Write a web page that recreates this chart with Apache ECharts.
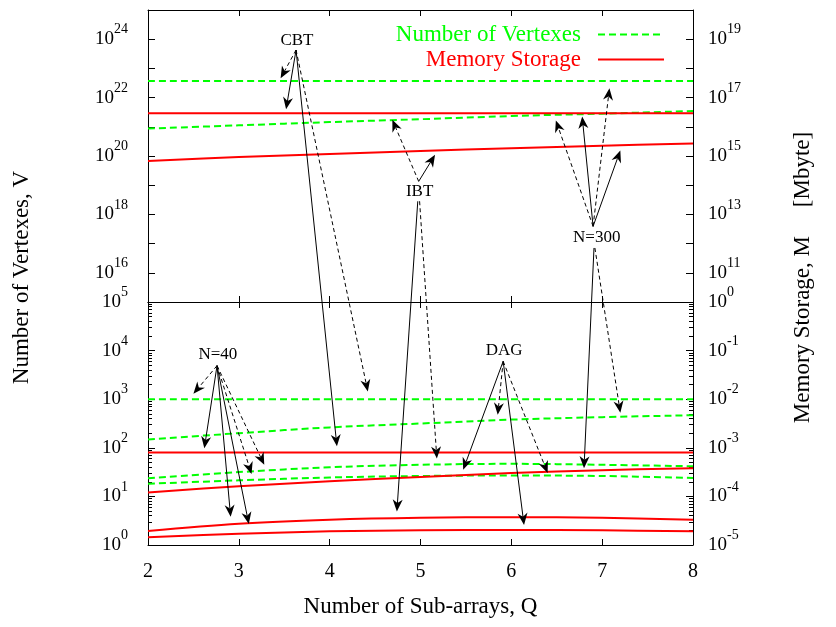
<!DOCTYPE html>
<html><head><meta charset="utf-8">
<script src="https://cdn.jsdelivr.net/npm/echarts@6/dist/echarts.min.js"></script>
<style>html,body{margin:0;padding:0;background:#fff}#c{width:836px;height:627px}</style>
</head><body><div id="c"></div>
<script>
// ---------------- data ----------------
const Q = [2, 3, 4, 5, 6, 7, 8];
// upper panel (N = 300)
const vertexCBT300 = [3.7e22, 3.7e22, 3.7e22, 3.7e22, 3.7e22, 3.7e22, 3.7e22];
const memoryCBT300 = [2.9e16, 2.9e16, 2.9e16, 2.9e16, 2.9e16, 2.9e16, 2.9e16];
const vertexIBT300 = [8.7e20, 1.12e21, 1.45e21, 1.82e21, 2.34e21, 2.82e21, 3.47e21];
const memoryIBT300 = [6.8e14, 9.3e14, 1.17e15, 1.48e15, 1.86e15, 2.24e15, 2.69e15];
// lower panel (N = 40)
const vertexCBT40 = [1000, 1000, 1000, 1000, 1000, 1000, 1000];
const memoryCBT40 = [8.0e-4, 8.0e-4, 8.0e-4, 8.0e-4, 8.0e-4, 8.0e-4, 8.0e-4];
const vertexIBT40 = [23.7, 31.6, 39.8, 44.7, 46.8, 44.7, 41.7];
const memoryIBT40 = [1.95e-5, 2.75e-5, 3.31e-5, 3.63e-5, 3.72e-5, 3.63e-5, 3.31e-5];
const vertexDagA = [148, 200, 263, 316, 380, 427, 468];
const memoryDagA = [1.20e-4, 1.62e-4, 2.04e-4, 2.51e-4, 3.02e-4, 3.47e-4, 3.80e-4];
const vertexDagB = [18.2, 21.4, 24.5, 26.3, 26.9, 26.3, 24.0];
const memoryDagB = [1.45e-5, 1.70e-5, 1.91e-5, 2.0e-5, 2.04e-5, 2.0e-5, 1.91e-5];

// tick label exponents
const xTicks = [2, 3, 4, 5, 6, 7, 8];
const topLeftExp = [16, 18, 20, 22, 24];
const topRightExp = [11, 13, 15, 17, 19];
const botLeftExp = [0, 1, 2, 3, 4, 5];
const botRightExp = [-5, -4, -3, -2, -1, 0];

// annotation labels: [text, panel, Q, log10 V]
const labels = [
  ['CBT', 'T', 3.64, 23.97],
  ['IBT', 'T', 4.99, 18.79],
  ['N=300', 'T', 6.94, 17.22],
  ['N=40', 'B', 2.77, 3.92],
  ['DAG', 'B', 5.92, 4.01]
];
// arrows: [from, to, dashed]; point = [panel, Q, log10 V]
const arrows = [
  [['T',3.63,23.63], ['T',3.46,22.66], true],
  [['T',3.63,23.63], ['T',3.52,21.60], false],
  [['T',3.63,23.63], ['B',4.08,2.03], false],
  [['T',3.63,23.63], ['B',4.42,3.16], true],
  [['T',4.98,19.13], ['T',4.69,21.24], true],
  [['T',4.98,19.13], ['T',5.16,20.04], false],
  [['T',4.97,18.45], ['B',4.74,0.69], false],
  [['T',4.99,18.45], ['B',5.18,1.78], true],
  [['T',6.90,17.59], ['T',6.49,21.22], true],
  [['T',6.90,17.59], ['T',6.78,21.35], false],
  [['T',6.90,17.59], ['T',7.08,22.32], true],
  [['T',6.90,17.59], ['T',7.20,20.19], false],
  [['T',6.91,16.85], ['B',6.80,1.58], false],
  [['T',6.92,16.85], ['B',7.20,2.72], true],
  [['B',2.76,3.69], ['B',2.50,3.11], true],
  [['B',2.76,3.69], ['B',2.62,1.99], false],
  [['B',2.76,3.69], ['B',3.14,1.46], true],
  [['B',2.76,3.69], ['B',3.28,1.65], true],
  [['B',2.76,3.69], ['B',2.91,0.58], false],
  [['B',2.76,3.69], ['B',3.11,0.43], false],
  [['B',5.91,3.78], ['B',5.47,1.55], false],
  [['B',5.91,3.78], ['B',5.85,2.68], true],
  [['B',5.91,3.78], ['B',6.40,1.48], true],
  [['B',5.91,3.78], ['B',6.14,0.41], false]
];

// ---------------- chart ----------------
const FONT = 'Liberation Serif';
const GREEN = '#00ff00', RED = '#ff0000';
const chart = echarts.init(document.getElementById('c'));

const rich = {
  b: {fontSize: 19, fontFamily: FONT, color: '#000', lineHeight: 26, verticalAlign: 'bottom'},
  s: {fontSize: 14, fontFamily: FONT, color: '#000', lineHeight: 26, verticalAlign: 'top'}
};
function xAx(grid, pos, showLabels) {
  return {type: 'value', gridIndex: grid, position: pos, min: 2, max: 8, interval: 1,
    axisLine: {show: true, onZero: false, lineStyle: {color: '#000', width: 1}},
    axisTick: {show: true, inside: true, length: 6, lineStyle: {color: '#000'}},
    axisLabel: {show: showLabels, margin: 17, fontSize: 20, fontFamily: FONT, color: '#000',
      customValues: xTicks, formatter: v => String(v)},
    splitLine: {show: false}};
}
function yAx(grid, pos, min, max, exps, margin) {
  return {type: 'value', gridIndex: grid, position: pos, min: min, max: max, interval: 1,
    axisLine: {show: true, onZero: false, lineStyle: {color: '#000', width: 1}},
    axisTick: {show: true, inside: true, length: 7, lineStyle: {color: '#000'}},
    axisLabel: {show: true, margin: margin, customValues: exps, rich: rich, padding: [0, 0, 7, 0],
      formatter: v => exps.indexOf(Math.round(v)) >= 0 ? '{b|10}{s|' + Math.round(v) + '}' : ''},
    splitLine: {show: false}};
}
function minorVals(min, max) {
  const out = [];
  for (let d = min; d < max; d++) for (let k = 2; k <= 9; k++) out.push(d + Math.log10(k));
  return out;
}
function minorAx(grid, pos, min, max) {
  return {type: 'value', gridIndex: grid, position: pos, min: min, max: max,
    axisLine: {show: false}, axisLabel: {show: false}, splitLine: {show: false},
    axisTick: {show: true, inside: true, length: 4, customValues: minorVals(min, max), lineStyle: {color: '#000'}}};
}
function nameAxY(pos, name, gap) {
  return {type: 'value', gridIndex: 2, position: pos, min: 0, max: 1, name: name,
    nameLocation: 'middle', nameGap: gap, nameRotate: 90,
    nameTextStyle: {fontSize: 23, fontFamily: FONT, color: '#000'},
    axisLine: {show: false}, axisTick: {show: false}, axisLabel: {show: false}, splitLine: {show: false}};
}
function toPts(arr) { return Q.map((q, i) => [q, Math.log10(arr[i])]); }
function ser(name, arr, xi, yi, color, dashed) {
  return {type: 'line', name: name, xAxisIndex: xi, yAxisIndex: yi, data: toPts(arr),
    showSymbol: false, symbol: 'none', smooth: 0.35, silent: true, color: color,
    lineStyle: {color: color, width: 2, type: dashed ? [7, 4] : 'solid'}};
}
const VN = 'Number of Vertexes', MN = 'Memory Storage';

const option = {
  animation: false,
  textStyle: {fontFamily: FONT},
  grid: [
    {left: 148, right: 143, top: 10, height: 292},
    {left: 148, right: 143, top: 302, height: 243},
    {left: 148, right: 143, top: 10, height: 535}
  ],
  legend: {
    top: 18, right: 166, orient: 'vertical', align: 'right', itemWidth: 66, itemHeight: 12, itemGap: 2,
    selectedMode: false,
    itemStyle: {opacity: 0},
    textStyle: {fontSize: 23, fontFamily: FONT, padding: [0, 12, 0, 0]},
    data: [{name: VN, textStyle: {color: GREEN}}, {name: MN, textStyle: {color: RED}}]
  },
  xAxis: [
    xAx(0, 'bottom', false), xAx(0, 'top', false),
    xAx(1, 'bottom', true), xAx(1, 'top', false),
    {type: 'value', gridIndex: 2, position: 'bottom', min: 2, max: 8, name: 'Number of Sub-arrays, Q',
      nameLocation: 'middle', nameGap: 50, nameTextStyle: {fontSize: 23, fontFamily: FONT, color: '#000'},
      axisLine: {show: false}, axisTick: {show: false}, axisLabel: {show: false}, splitLine: {show: false}}
  ],
  yAxis: [
    yAx(0, 'left', 15, 25, topLeftExp, 20),
    yAx(0, 'right', 10, 20, topRightExp, 15),
    yAx(1, 'left', 0, 5, botLeftExp, 20),
    yAx(1, 'right', -5, 0, botRightExp, 15),
    minorAx(1, 'left', 0, 5),
    minorAx(1, 'right', -5, 0),
    nameAxY('left', 'Number of Vertexes, V', 115),
    nameAxY('right', 'Memory Storage, M     [Mbyte]', 98)
  ],
  series: [
    ser(VN, vertexCBT300, 0, 0, GREEN, true),
    ser(VN, vertexIBT300, 0, 0, GREEN, true),
    ser(MN, memoryCBT300, 0, 1, RED, false),
    ser(MN, memoryIBT300, 0, 1, RED, false),
    ser(VN, vertexCBT40, 2, 2, GREEN, true),
    ser(VN, vertexDagA, 2, 2, GREEN, true),
    ser(VN, vertexIBT40, 2, 2, GREEN, true),
    ser(VN, vertexDagB, 2, 2, GREEN, true),
    ser(MN, memoryCBT40, 2, 3, RED, false),
    ser(MN, memoryDagA, 2, 3, RED, false),
    ser(MN, memoryIBT40, 2, 3, RED, false),
    ser(MN, memoryDagB, 2, 3, RED, false)
  ]
};
chart.setOption(option);

function px(p) {
  const f = p[0] === 'T' ? {xAxisIndex: 0, yAxisIndex: 0} : {xAxisIndex: 2, yAxisIndex: 2};
  return chart.convertToPixel(f, [p[1], p[2]]);
}
const gfx = [];
arrows.forEach(a => {
  const s = px(a[0]), e = px(a[1]);
  const dx = e[0] - s[0], dy = e[1] - s[1], len = Math.hypot(dx, dy);
  const ux = dx / len, uy = dy / len, nx = -uy, ny = ux;
  const HL = 12, HW = 5;
  const back = [e[0] - ux * HL, e[1] - uy * HL];
  const notch = [e[0] - ux * HL * 0.7, e[1] - uy * HL * 0.7];
  gfx.push({type: 'line', silent: true, z: 50,
    shape: {x1: s[0], y1: s[1], x2: notch[0], y2: notch[1]},
    style: {stroke: '#000', lineWidth: 1, lineDash: a[2] ? [4, 3] : null}});
  gfx.push({type: 'polygon', silent: true, z: 50,
    shape: {points: [e, [back[0] + nx * HW, back[1] + ny * HW], notch, [back[0] - nx * HW, back[1] - ny * HW]]},
    style: {fill: '#000'}});
});
labels.forEach(l => {
  const p = px([l[1], l[2], l[3]]);
  gfx.push({type: 'text', silent: true, z: 60, x: p[0], y: p[1],
    style: {text: l[0], font: '17px "Liberation Serif"', fill: '#000', align: 'center', verticalAlign: 'middle',
      textAlign: 'center', textVerticalAlign: 'middle'}});
});
chart.setOption({graphic: gfx});
</script>
</body></html>
